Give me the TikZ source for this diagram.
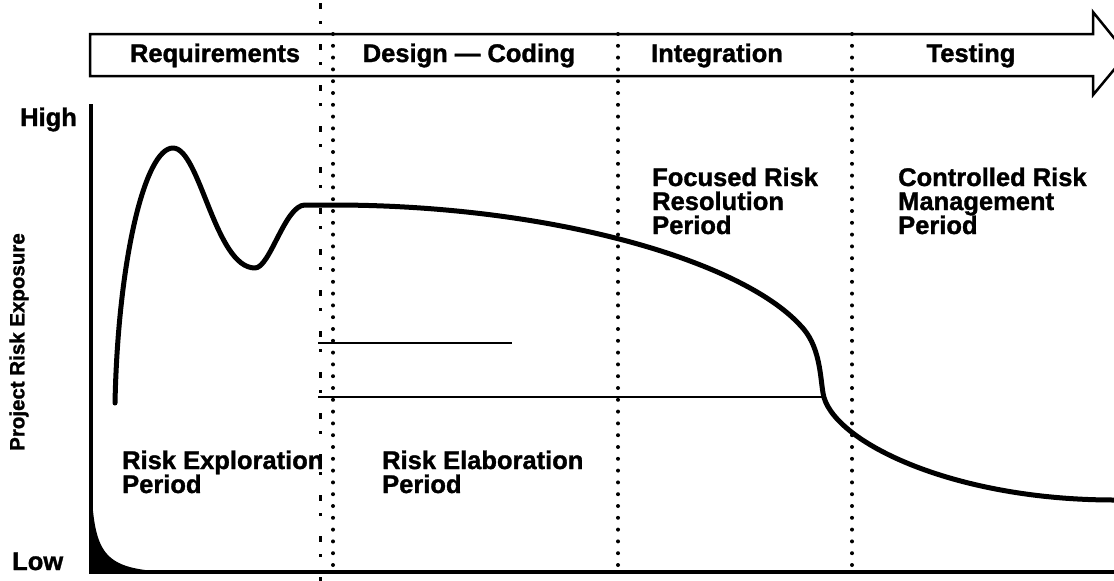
\documentclass[tikz,border=0pt]{standalone}
\usepackage{fontspec}
\setmainfont{Liberation Sans}
\newfontfamily\heavyfont{Liberation Sans Bold}[FakeBold=1.3]
\begin{document}
\begin{tikzpicture}[x=1pt,y=-1pt,
  lbl/.style={font=\fontsize{25.5}{26}\heavyfont, inner sep=0pt},
  axislbl/.style={font=\fontsize{20.5}{21}\heavyfont, inner sep=0pt},
  dotline/.style={line width=4pt, line cap=round, dash pattern=on 0pt off 11.8pt},
  noisy/.style={line width=3pt, dash pattern=on 6pt off 12pt on 3pt off 20pt},
  riskcurve/.style={line width=5pt, line cap=round, line join=round},
  axisline/.style={line width=3.5pt},
  phasearrow/.style={line width=2.5pt, line join=miter, fill=white}]
\useasboundingbox (0,0) rectangle (1114,581);
\clip (0,0) rectangle (1114,581);

% phase arrow
\draw[phasearrow] (90,34) -- (1093,34) -- (1093,12) -- (1127,54) -- (1093,95) -- (1093,76) -- (90,76) -- cycle;

% scanning noise column
\draw[noisy] (320,3) -- (320,581);

% dotted phase separators
\coordinate (d1t) at (333,34); \coordinate (d1b) at (333,568);
\coordinate (d2t) at (618,34); \coordinate (d2b) at (618,568);
\coordinate (d3t) at (852,34); \coordinate (d3b) at (852,568);
\draw[dotline] (d1t) -- (d1b);
\draw[dotline] (d2t) -- (d2b);
\draw[dotline] (d3t) -- (d3b);

% phase labels
\node[lbl, anchor=base] (req) at (215,62) {Requirements};
\node[lbl, anchor=base] (des) at (469,62) {Design — Coding};
\node[lbl, anchor=base] (int) at (717,62) {Integration};
\node[lbl, anchor=base] (tst) at (971,62) {Testing};

% axes
\draw[axisline] (91,104) -- (91,572) -- (1114,572);
\fill (91,572) -- (91,480) .. controls (94,555) and (102,569) .. (170,572) -- cycle;

\node[lbl, anchor=base west] (high) at (20,126) {High};
\node[lbl, anchor=base west] (low) at (12,570) {Low};
\node[axislbl, rotate=90] (ylab) at (19,342) {Project Risk Exposure};

% horizontal lines
\draw[line width=2pt] (318,343) -- (512,343);
\draw[line width=1.5pt] (318,397) -- (822,397);

% risk curve
\draw[riskcurve] (115,403) .. controls (118,260) and (145,148) .. (173,148)
  .. controls (200,148) and (215,268) .. (255,268)
  .. controls (270,268) and (285,205) .. (305,205)
  -- (333,205)
  .. controls (550,205) and (740,260) .. (800,325)
  .. controls (820,345) and (820,375) .. (823,393)
  .. controls (830,440) and (950,500) .. (1114,500);

% period labels
\node[lbl, anchor=base west] (p1a) at (122,469) {Risk Exploration};
\node[lbl, anchor=base west] (p1b) at (122,493) {Period};
\node[lbl, anchor=base west] (p2a) at (382,469) {Risk Elaboration};
\node[lbl, anchor=base west] (p2b) at (382,493) {Period};
\node[lbl, anchor=base west] (p3a) at (652,186) {Focused Risk};
\node[lbl, anchor=base west] (p3b) at (652,210) {Resolution};
\node[lbl, anchor=base west] (p3c) at (652,234) {Period};
\node[lbl, anchor=base west] (p4a) at (898,186) {Controlled Risk};
\node[lbl, anchor=base west] (p4b) at (898,210) {Management};
\node[lbl, anchor=base west] (p4c) at (898,234) {Period};
\end{tikzpicture}
\end{document}
